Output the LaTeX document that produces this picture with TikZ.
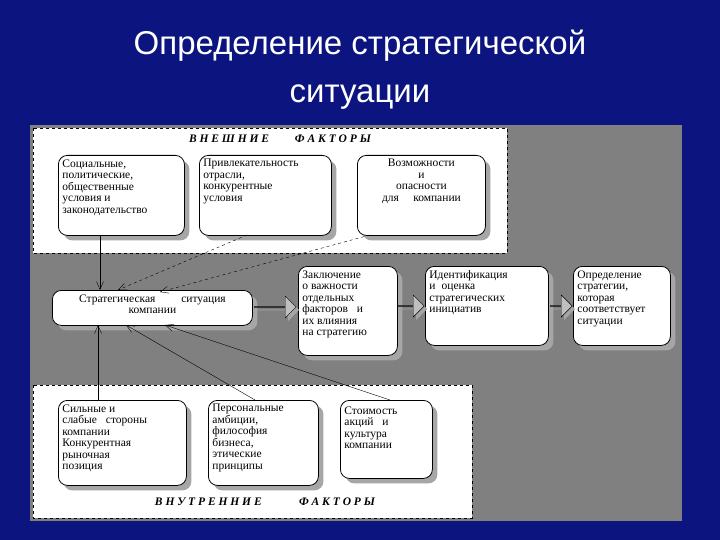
\documentclass[tikz,border=0pt]{standalone}
\usepackage{fontspec}
\setmainfont{Liberation Serif}
\newfontfamily\titlefont{Liberation Sans}
\usetikzlibrary{shapes.arrows,shadows,arrows.meta}
\definecolor{bgblue}{RGB}{12,20,128}
\definecolor{panelgray}{RGB}{128,128,128}
\newcommand{\boxtext}[3]{\parbox[t][#2][t]{#1}{#3}}
\tikzset{
  box/.style={draw, thick, rounded corners=9pt, fill=white, anchor=north west,
    inner sep=4pt, font=\fontsize{11.5}{11.5}\selectfont,
    drop shadow={shadow xshift=5pt, shadow yshift=-5pt, fill=black!35, opacity=1}},
  link/.style={thin, -{Straight Barb[length=8pt,width=7pt]}},
  bigarrow/.style={single arrow, draw, fill=panelgray!50, minimum height=40pt,
    single arrow head extend=5pt, minimum width=22pt, inner sep=0pt,
    drop shadow={shadow xshift=3pt, shadow yshift=-3pt, fill=black!35, opacity=1}},
  head/.style={font=\bfseries\itshape\fontsize{11.5}{11.5}\selectfont}
}
\begin{document}
\begin{tikzpicture}[x=1pt, y=-1pt]
      % Background and panels
      \fill[bgblue] (0,0) rectangle (720,540);
      \useasboundingbox (0,0) rectangle (720,540);
      \fill[panelgray] (30,125) rectangle (682,521);
      \draw[dashed, fill=white] (33,128) rectangle (507,253);
      \draw[dashed, fill=white] (33,385) rectangle (472,518);

      % Title
      \node[text=white, font=\titlefont\fontsize{33}{48}\selectfont, align=center] (title) at (360,70)
        {Определение стратегической\\ситуации};

      % Headers
      \node[head] (ext) at (280,139) {В Н Е Ш Н И Е \quad\quad Ф А К Т О Р Ы};
      \node[head] (int) at (265,502) {В Н У Т Р Е Н Н И Е \qquad\quad Ф А К Т О Р Ы};

      % External factors
      \node[box] (soc) at (58,155) {\boxtext{118pt}{72pt}
        {Социальные,\\политические,\\общественные\\условия и\\законодательство}};
      \node[box] (ind) at (199,155) {\boxtext{124pt}{72pt}
        {Привлекательность\\отрасли,\\конкурентные\\условия}};
      \node[box] (opp) at (357,155) {\boxtext{120pt}{72pt}
        {\centering Возможности\\и\\опасности\\для \quad компании\par}};

      % Main chain
      \node[box] (sit) at (52,290) {\boxtext{192pt}{27pt}
        {\centering Стратегическая \qquad ситуация\\компании\par}};
      \node[box] (imp) at (298,266) {\boxtext{91pt}{81pt}
        {Заключение\\о важности\\отдельных\\факторов \; и\\их влияния\\на стратегию}};
      \node[box] (iden) at (425,266) {\boxtext{115pt}{71pt}
        {Идентификация\\и \;оценка\\стратегических\\инициатив}};
      \node[box] (strat) at (573,266) {\boxtext{89pt}{71pt}
        {Определение\\стратегии,\\которая\\соответствует\\ситуации}};

      % Internal factors
      \node[box] (str) at (58,400) {\boxtext{120pt}{77pt}
        {Сильные и\\слабые \; стороны\\компании\\Конкурентная\\рыночная\\позиция}};
      \node[box] (pers) at (208,400) {\boxtext{102pt}{77pt}
        {Персональные\\амбиции,\\философия\\бизнеса,\\этические\\принципы}};
      \node[box] (cult) at (340,400) {\boxtext{84pt}{70pt}
        {\vspace{2pt}Стоимость\\акций \; и\\культура\\компании}};

      % Connectors to the situation
      \coordinate (s1) at (100,290); \coordinate (s2) at (118,290); \coordinate (s3) at (160,292);
      \coordinate (t1) at (98,325); \coordinate (t2) at (126,325); \coordinate (t3) at (165,325);
      \draw[link] (soc.south -| s1) -- (s1);
      \draw[link, dashed] (247,235) -- (s2);
      \draw[link, dashed] (370,235) -- (s3);
      \draw[link] (str.north -| t1) -- (t1);
      \draw[link] (255,400) -- (t2);
      \draw[link] (390,400) -- (t3);

      % Block arrows
      \node[bigarrow, minimum height=42pt] (a1) at (275,307) {};
      \node[bigarrow, minimum height=26pt] (a2) at (411,306) {};
      \node[bigarrow, minimum height=22pt] (a3) at (561,306) {};
    \end{tikzpicture}
\end{document}
